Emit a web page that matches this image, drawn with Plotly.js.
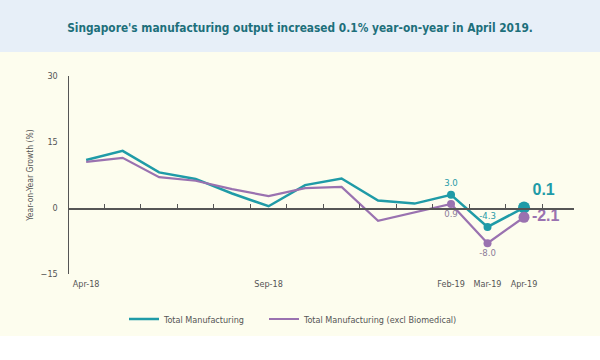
<!DOCTYPE html>
<html>
<head>
<meta charset="utf-8">
<script src="https://cdn.plot.ly/plotly-3.0.1.min.js"></script>
<style>html,body{margin:0;padding:0;background:#fdfdee;}#chart{width:600px;height:360px;}</style>
</head>
<body>
<div id="chart"></div>
<script>
var months = ['Apr-18','May-18','Jun-18','Jul-18','Aug-18','Sep-18','Oct-18','Nov-18','Dec-18','Jan-19','Feb-19','Mar-19','Apr-19'];
var totalMfg = [10.9, 13.0, 8.1, 6.6, 3.3, 0.4, 5.2, 6.7, 1.7, 1.0, 3.0, -4.3, 0.1];
var exclBiomed = [10.5, 11.4, 7.0, 6.2, 4.3, 2.7, 4.5, 4.8, -2.9, -1.0, 0.9, -8.0, -2.1];
var shownTickLabels = ['Apr-18','Sep-18','Feb-19','Mar-19','Apr-19'];
var yTicks = [-15, 0, 15, 30];
var seriesNames = ['Total Manufacturing', 'Total Manufacturing (excl Biomedical)'];

var TEAL = '#1f9ba7', PURPLE = '#9a72b0', AXIS = '#555555';
var FONT = 'DejaVu Sans Condensed, sans-serif';
var BIG = 'Liberation Sans, Arial, sans-serif';

var idx = months.map(function(_, i){ return i; });
var n = months.length;
var lab = [n-3, n-2, n-1];               // points that carry markers and value labels
function pick(arr){ return lab.map(function(i){ return arr[i]; }); }
function txt(arr){ return lab.map(function(i){ return arr[i].toFixed(1); }); }
var isLast = lab.map(function(i){ return i === n-1; });

var fontSizes = isLast.map(function(l){ return l ? 16 : 9.5; });
var fontFams = isLast.map(function(l){ return l ? BIG : FONT; });
var fontWeights = isLast.map(function(l){ return l ? 'bold' : 'normal'; });

var traces = [
  {
    x: idx, y: totalMfg, name: seriesNames[0], type: 'scatter', mode: 'lines',
    line: {color: TEAL, width: 2.5}, hoverinfo: 'skip', legend: 'legend'
  },
  {
    x: idx, y: exclBiomed, name: seriesNames[1], type: 'scatter', mode: 'lines',
    line: {color: PURPLE, width: 2.2}, hoverinfo: 'skip', legend: 'legend2'
  },
  {
    x: lab, y: pick(totalMfg), xaxis: 'x2', yaxis: 'y', type: 'scatter', mode: 'markers+text',
    showlegend: false, cliponaxis: false, hoverinfo: 'skip',
    marker: {color: TEAL, opacity: 1, line: {width: 0}, size: isLast.map(function(l){ return l ? 12 : 8; })},
    text: txt(totalMfg),
    textposition: isLast.map(function(l){ return l ? 'top right' : 'top center'; }),
    textfont: {color: TEAL, size: fontSizes, family: fontFams, weight: fontWeights}
  },
  {
    x: lab, y: pick(exclBiomed), xaxis: 'x2', yaxis: 'y', type: 'scatter', mode: 'markers+text',
    showlegend: false, cliponaxis: false, hoverinfo: 'skip',
    marker: {color: PURPLE, opacity: 1, line: {width: 0}, size: isLast.map(function(l){ return l ? 11 : 8; })},
    text: txt(exclBiomed),
    textposition: isLast.map(function(l){ return l ? 'middle right' : 'bottom center'; }),
    textfont: {color: isLast.map(function(l){ return l ? PURPLE : '#8c7c99'; }), size: fontSizes, family: fontFams, weight: fontWeights}
  }
];

var W = 600, H = 360;
var M = {l: 69, r: 26, t: 76, b: 86};
var pw = W - M.l - M.r, ph = H - M.t - M.b;
function px2fx(px){ return (px - M.l) / pw; }
function py2fy(py){ return (H - M.b - py) / ph; }

var tickVals = shownTickLabels.map(function(m){ return months.indexOf(m); });
var minorTicks = idx.map(function(i){ return i + 0.5; });
var xr = [-0.47, 13.37];

var layout = {
  width: W, height: H,
  margin: M,
  paper_bgcolor: '#fdfdee', plot_bgcolor: 'rgba(0,0,0,0)',
  font: {family: FONT, color: AXIS},
  title: {
    text: "Singapore's manufacturing output increased 0.1% year-on-year in April 2019.",
    font: {family: FONT, size: 11.8, color: '#1d6f7b', weight: 'bold'},
    x: 0.5, xanchor: 'center', xref: 'container',
    y: 1 - 28/H, yanchor: 'middle', yref: 'container'
  },
  xaxis: {
    range: xr, tickmode: 'array', tickvals: tickVals, ticktext: shownTickLabels,
    showline: false, showgrid: false, zeroline: false, ticks: '',
    tickfont: {size: 9, color: AXIS}, ticklabelstandoff: 3
  },
  xaxis2: {
    overlaying: 'x', anchor: 'free', position: 15/45, side: 'bottom',
    range: xr, tickmode: 'array', tickvals: minorTicks, ticks: 'inside', ticklen: 4,
    tickwidth: 1.2, tickcolor: AXIS, showticklabels: false,
    showline: true, linecolor: AXIS, linewidth: 1.5, showgrid: false, zeroline: false
  },
  yaxis: {
    range: [-15, 30], tickmode: 'array', tickvals: yTicks,
    showline: true, linecolor: AXIS, linewidth: 1.5, showgrid: false, zeroline: false,
    ticks: '', ticklabelstandoff: 8, tickfont: {size: 9, color: AXIS},
    title: {text: 'Year-on-Year Growth (%)', font: {size: 8.5, color: AXIS}, standoff: 5}
  },
  legend: {
    orientation: 'h', xref: 'container', yref: 'container',
    x: 124/W, xanchor: 'left', y: 1 - 319/H, yanchor: 'middle',
    font: {size: 9, color: AXIS}, bgcolor: 'rgba(0,0,0,0)'
  },
  legend2: {
    orientation: 'h', xref: 'container', yref: 'container',
    x: 264/W, xanchor: 'left', y: 1 - 319/H, yanchor: 'middle',
    font: {size: 9, color: AXIS}, bgcolor: 'rgba(0,0,0,0)'
  },
  shapes: [
    {type: 'rect', xref: 'paper', yref: 'paper', layer: 'below', line: {width: 0},
     x0: px2fx(0), x1: px2fx(W), y0: py2fy(52), y1: py2fy(0), fillcolor: '#e7eff8'},
    {type: 'rect', xref: 'paper', yref: 'paper', layer: 'below', line: {width: 0},
     x0: px2fx(0), x1: px2fx(W), y0: py2fy(H), y1: py2fy(336), fillcolor: '#ffffff'}
  ]
};

Plotly.newPlot('chart', traces, layout, {displayModeBar: false, staticPlot: true});
</script>
</body>
</html>
